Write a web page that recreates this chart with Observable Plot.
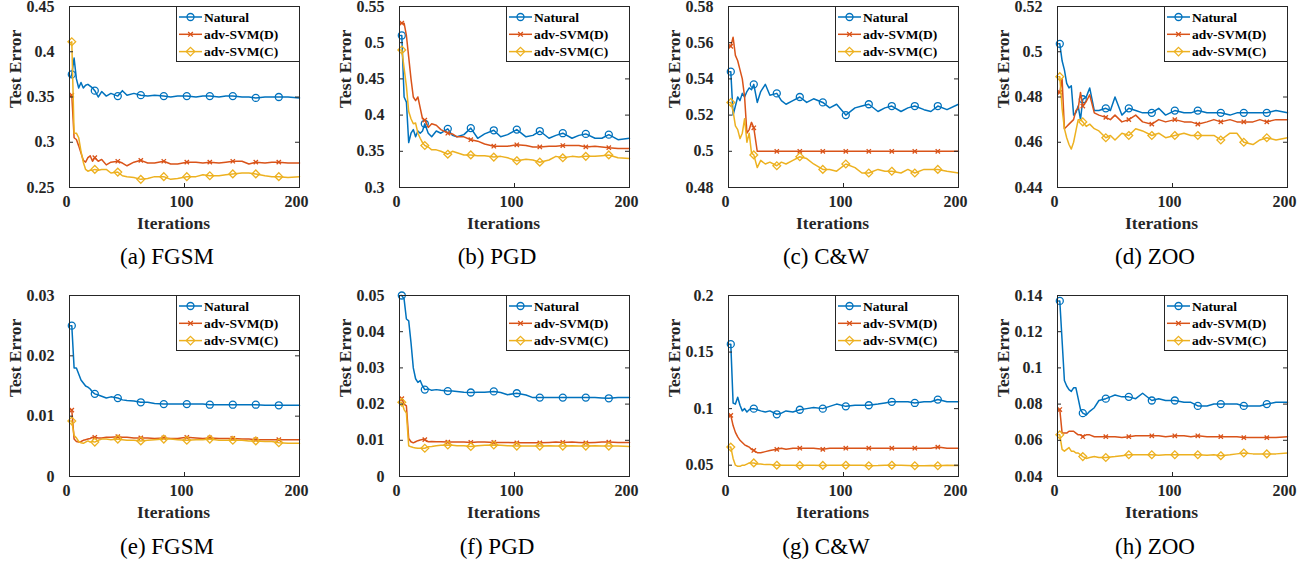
<!DOCTYPE html>
<html><head><meta charset="utf-8">
<script src="https://cdn.jsdelivr.net/npm/d3@7"></script>
<script src="https://cdn.jsdelivr.net/npm/@observablehq/plot@0.6"></script>
<style>
body{margin:0;background:#fff;}
#root{position:relative;width:1309px;height:567px;overflow:hidden;background:#fff;font-family:"Liberation Serif","Times New Roman",serif;}
.panel{position:absolute;}
.caption{position:absolute;font-size:23px;color:#000;transform:translateX(-50%);white-space:nowrap;line-height:26px;}
.legend{position:absolute;}
</style></head><body><div id="root"></div>
<script>
// ---------- data ----------
const iterations = [1,2,4,6,8,10,12,14,16,18,20,22,25,28,32,36,42,46,50,56,62,68,74,82,88,94,102,110,116,122,130,136,142,150,156,162,170,176,182,190,200];
const markerIterations = [2,22,42,62,82,102,122,142,162,182];
const seriesNames = ["Natural","adv-SVM(D)","adv-SVM(C)"];
const seriesColors = ["#0072BD","#D95319","#EDB120"];
const seriesSymbols = ["circle","times","diamond2"];
const captions = ["(a) FGSM","(b) PGD","(c) C&W","(d) ZOO","(e) FGSM","(f) PGD","(g) C&W","(h) ZOO"];
const xTicks = [0,100,200];
const xLabel = "Iterations";
const yLabel = "Test Error";

const a_nat = [0.372,0.375,0.393,0.370,0.360,0.366,0.360,0.363,0.364,0.362,0.360,0.357,0.350,0.356,0.351,0.354,0.351,0.357,0.352,0.354,0.352,0.351,0.352,0.351,0.350,0.351,0.351,0.350,0.351,0.351,0.350,0.351,0.351,0.350,0.350,0.349,0.350,0.350,0.350,0.350,0.349];
const a_advD = [0.352,0.352,0.305,0.303,0.296,0.288,0.280,0.278,0.283,0.285,0.279,0.283,0.279,0.281,0.275,0.278,0.279,0.277,0.274,0.278,0.280,0.277,0.277,0.279,0.276,0.276,0.278,0.278,0.277,0.278,0.277,0.278,0.279,0.279,0.276,0.278,0.277,0.278,0.278,0.277,0.277];
const a_advC = [0.410,0.411,0.310,0.310,0.305,0.290,0.278,0.270,0.268,0.269,0.269,0.270,0.269,0.270,0.270,0.266,0.267,0.263,0.262,0.261,0.259,0.260,0.262,0.262,0.259,0.260,0.262,0.262,0.264,0.263,0.263,0.264,0.265,0.266,0.266,0.265,0.263,0.262,0.262,0.261,0.262];

const b_nat = [0.510,0.510,0.425,0.418,0.362,0.375,0.380,0.370,0.378,0.375,0.378,0.388,0.375,0.370,0.378,0.375,0.381,0.372,0.370,0.373,0.382,0.368,0.374,0.379,0.370,0.373,0.380,0.370,0.372,0.378,0.368,0.372,0.375,0.368,0.372,0.374,0.368,0.368,0.373,0.366,0.368];
const b_advD = [0.527,0.527,0.527,0.510,0.480,0.450,0.425,0.420,0.425,0.410,0.395,0.393,0.383,0.388,0.386,0.380,0.375,0.374,0.370,0.370,0.366,0.364,0.360,0.357,0.357,0.357,0.359,0.358,0.356,0.356,0.357,0.357,0.358,0.358,0.358,0.356,0.357,0.356,0.355,0.354,0.354];
const b_advC = [0.490,0.490,0.465,0.440,0.405,0.395,0.388,0.389,0.375,0.368,0.362,0.358,0.356,0.352,0.352,0.350,0.346,0.350,0.348,0.345,0.345,0.344,0.344,0.342,0.343,0.341,0.337,0.339,0.338,0.335,0.338,0.343,0.341,0.343,0.342,0.343,0.343,0.344,0.345,0.341,0.340];

const c_nat = [0.544,0.544,0.520,0.525,0.530,0.528,0.532,0.530,0.533,0.535,0.534,0.537,0.527,0.533,0.537,0.531,0.532,0.528,0.526,0.528,0.530,0.527,0.529,0.527,0.524,0.526,0.520,0.524,0.525,0.526,0.522,0.524,0.525,0.522,0.524,0.525,0.523,0.522,0.525,0.523,0.526];
const c_advD = [0.558,0.558,0.563,0.553,0.550,0.545,0.540,0.530,0.510,0.512,0.516,0.513,0.500,0.500,0.500,0.500,0.500,0.500,0.500,0.500,0.500,0.500,0.500,0.500,0.500,0.500,0.500,0.500,0.500,0.500,0.500,0.500,0.500,0.500,0.500,0.500,0.500,0.500,0.500,0.500,0.500];
const c_advC = [0.527,0.527,0.522,0.514,0.512,0.507,0.510,0.518,0.505,0.510,0.499,0.498,0.491,0.495,0.493,0.494,0.492,0.494,0.493,0.495,0.497,0.496,0.493,0.490,0.490,0.489,0.493,0.491,0.488,0.488,0.490,0.489,0.489,0.488,0.490,0.488,0.490,0.490,0.490,0.489,0.488];

const d_nat = [0.5035,0.5035,0.496,0.492,0.486,0.484,0.485,0.472,0.473,0.476,0.470,0.479,0.480,0.484,0.474,0.474,0.475,0.474,0.480,0.472,0.475,0.474,0.473,0.473,0.475,0.472,0.474,0.473,0.473,0.474,0.473,0.473,0.473,0.472,0.473,0.473,0.473,0.473,0.473,0.474,0.473];
const d_advD = [0.482,0.482,0.488,0.466,0.467,0.468,0.469,0.470,0.474,0.475,0.482,0.476,0.478,0.481,0.473,0.472,0.471,0.470,0.472,0.469,0.470,0.472,0.469,0.468,0.470,0.469,0.470,0.469,0.469,0.468,0.469,0.470,0.469,0.470,0.469,0.469,0.469,0.470,0.469,0.470,0.470];
const d_advC = [0.489,0.489,0.475,0.466,0.462,0.459,0.457,0.460,0.465,0.470,0.470,0.469,0.467,0.468,0.466,0.465,0.462,0.463,0.461,0.464,0.463,0.466,0.465,0.463,0.464,0.462,0.463,0.464,0.463,0.463,0.463,0.463,0.461,0.464,0.464,0.460,0.459,0.461,0.462,0.461,0.462];

const e_nat = [0.025,0.025,0.018,0.018,0.017,0.016,0.0155,0.015,0.0148,0.0145,0.014,0.0137,0.0135,0.0133,0.013,0.0132,0.013,0.0127,0.0126,0.0125,0.0123,0.0123,0.0121,0.012,0.012,0.012,0.012,0.012,0.012,0.0119,0.0119,0.0119,0.0119,0.0119,0.0119,0.0119,0.0118,0.0118,0.0118,0.0118,0.0118];
const e_advD = [0.0111,0.011,0.0062,0.0058,0.0057,0.0058,0.006,0.0061,0.0062,0.0063,0.0065,0.0065,0.0064,0.0064,0.0065,0.0065,0.0066,0.0065,0.0065,0.0064,0.0064,0.0064,0.0063,0.0064,0.0063,0.0063,0.0065,0.0064,0.0063,0.0064,0.0063,0.0063,0.0063,0.0062,0.0062,0.0061,0.0061,0.0061,0.0061,0.0061,0.0061];
const e_advC = [0.0092,0.0092,0.0068,0.0064,0.0058,0.0056,0.0055,0.0057,0.0059,0.0057,0.0058,0.0057,0.006,0.0062,0.0062,0.0061,0.0062,0.0061,0.006,0.006,0.0059,0.006,0.0061,0.0062,0.0062,0.0061,0.006,0.0061,0.0061,0.0062,0.006,0.006,0.006,0.006,0.0059,0.0059,0.0058,0.0058,0.0056,0.0055,0.0055];

const f_nat = [0.05,0.05,0.049,0.0435,0.043,0.037,0.030,0.027,0.026,0.0265,0.025,0.024,0.0242,0.0238,0.024,0.0238,0.0236,0.0236,0.0235,0.0233,0.0232,0.0233,0.0233,0.0235,0.0232,0.0226,0.023,0.0225,0.0218,0.0218,0.0218,0.0218,0.0218,0.0218,0.0218,0.0218,0.0218,0.0217,0.0216,0.0218,0.0218];
const f_advD = [0.021,0.0215,0.020,0.0195,0.0105,0.0096,0.0093,0.0096,0.0099,0.0101,0.0102,0.0102,0.0096,0.0097,0.0096,0.0096,0.0095,0.0095,0.0095,0.0095,0.0094,0.0095,0.0095,0.0094,0.0094,0.0094,0.0093,0.0093,0.0093,0.0093,0.0094,0.0095,0.0094,0.0095,0.0094,0.0093,0.0094,0.0095,0.0095,0.0094,0.0094];
const f_advC = [0.0205,0.0205,0.0185,0.0175,0.0085,0.0082,0.008,0.0079,0.0078,0.0078,0.0078,0.0078,0.0082,0.0083,0.0085,0.0086,0.0087,0.0086,0.0085,0.0085,0.0083,0.0085,0.0086,0.0087,0.0086,0.0085,0.0084,0.0084,0.0084,0.0084,0.0085,0.0084,0.0084,0.0085,0.0084,0.0084,0.0085,0.0084,0.0084,0.0084,0.0083];

const g_nat = [0.157,0.157,0.105,0.104,0.110,0.103,0.098,0.100,0.097,0.099,0.100,0.100,0.099,0.098,0.097,0.098,0.095,0.096,0.098,0.097,0.099,0.100,0.101,0.100,0.102,0.104,0.102,0.103,0.103,0.103,0.104,0.105,0.106,0.106,0.106,0.105,0.106,0.106,0.108,0.106,0.106];
const g_advD = [0.094,0.094,0.085,0.079,0.075,0.072,0.070,0.068,0.067,0.066,0.064,0.063,0.061,0.061,0.062,0.063,0.064,0.065,0.064,0.065,0.065,0.065,0.065,0.064,0.065,0.065,0.065,0.065,0.065,0.065,0.065,0.065,0.065,0.065,0.065,0.065,0.065,0.065,0.066,0.065,0.065];
const g_advC = [0.066,0.066,0.056,0.050,0.049,0.049,0.050,0.050,0.051,0.052,0.052,0.052,0.051,0.051,0.0505,0.0505,0.050,0.050,0.050,0.050,0.0498,0.050,0.050,0.0498,0.050,0.050,0.050,0.050,0.050,0.0495,0.0497,0.050,0.050,0.050,0.0497,0.0495,0.0495,0.0497,0.0495,0.050,0.0497];

const h_nat = [0.137,0.137,0.115,0.093,0.090,0.088,0.087,0.089,0.089,0.083,0.077,0.075,0.074,0.076,0.078,0.082,0.083,0.084,0.085,0.084,0.084,0.083,0.086,0.082,0.083,0.082,0.082,0.081,0.081,0.079,0.079,0.080,0.080,0.080,0.080,0.079,0.079,0.079,0.080,0.081,0.081];
const h_advD = [0.077,0.077,0.064,0.064,0.064,0.065,0.065,0.065,0.064,0.063,0.063,0.062,0.063,0.063,0.062,0.062,0.062,0.062,0.062,0.0615,0.062,0.0625,0.0625,0.0625,0.0625,0.062,0.0625,0.0625,0.062,0.0625,0.062,0.062,0.062,0.062,0.062,0.0615,0.0615,0.0615,0.0615,0.0615,0.062];
const h_advC = [0.063,0.063,0.055,0.054,0.055,0.056,0.054,0.054,0.053,0.053,0.052,0.051,0.050,0.0505,0.051,0.0505,0.0505,0.0508,0.051,0.0515,0.052,0.052,0.052,0.052,0.0518,0.052,0.052,0.052,0.052,0.052,0.0518,0.052,0.0515,0.052,0.0525,0.053,0.0525,0.0525,0.0525,0.0525,0.053];

const yDomains = [[0.25,0.45],[0.3,0.55],[0.48,0.58],[0.44,0.52],[0,0.03],[0,0.05],[0.04,0.2],[0.04,0.14]];
const yTicksList = [
  [0.25,0.3,0.35,0.4,0.45],
  [0.3,0.35,0.4,0.45,0.5,0.55],
  [0.48,0.5,0.52,0.54,0.56,0.58],
  [0.44,0.46,0.48,0.5,0.52],
  [0,0.01,0.02,0.03],
  [0,0.01,0.02,0.03,0.04,0.05],
  [0.05,0.1,0.15,0.2],
  [0.04,0.06,0.08,0.1,0.12,0.14]
];
const panelSeries = [
  [a_nat,a_advD,a_advC],[b_nat,b_advD,b_advC],[c_nat,c_advD,c_advC],[d_nat,d_advD,d_advC],
  [e_nat,e_advD,e_advC],[f_nat,f_advD,f_advC],[g_nat,g_advD,g_advC],[h_nat,h_advD,h_advC]
];

// ---------- layout ----------
const root = document.getElementById("root");
const W = 330, H = 240, mL = 70, mR = 30, mT = 6, mB = 53;
const innerW = W - mL - mR, innerH = H - mT - mB;
const frameLefts = [69, 399, 728, 1057];
const rowTops = [0, 289];
const captionY = [244, 534];
const ink = "#262626";
const serif = '"Liberation Serif", "Times New Roman", serif';
const fmt = d => String(+d.toFixed(4));

function buildPanel(p) {
  const col = p % 4, row = Math.floor(p / 4);
  const rows = [];
  panelSeries[p].forEach((vals, s) => vals.forEach((v, i) => rows.push({it: iterations[i], v, s})));
  const yT = yTicksList[p];
  const marks = [];
  seriesNames.forEach((name, s) => {
    const d = rows.filter(r => r.s === s);
    marks.push(Plot.line(d, {x: "it", y: "v", stroke: seriesColors[s], strokeWidth: 1.5}));
    marks.push(Plot.dot(d.filter(r => markerIterations.includes(r.it)), {
      x: "it", y: "v", symbol: seriesSymbols[s], stroke: seriesColors[s], fill: "none",
      r: s === 1 ? 2.1 : 3.5, strokeWidth: 1.3
    }));
  });
  // inward ticks on all four sides (MATLAB box style)
  marks.push(Plot.tickX(xTicks, {x: d => d, insetTop: innerH - 4, stroke: ink}));
  marks.push(Plot.tickX(xTicks, {x: d => d, insetBottom: innerH - 4, stroke: ink}));
  marks.push(Plot.tickY(yT, {y: d => d, insetRight: innerW - 4, stroke: ink}));
  marks.push(Plot.tickY(yT, {y: d => d, insetLeft: innerW - 4, stroke: ink}));
  marks.push(Plot.axisX({ticks: xTicks, tickSize: 0, tickPadding: 8, label: null, fontSize: 16, dx: -3}));
  marks.push(Plot.axisY({ticks: yT, tickSize: 0, tickPadding: 15, tickFormat: fmt, label: null, fontSize: 16}));
  marks.push(Plot.text([xLabel], {text: d => d, frameAnchor: "bottom", lineAnchor: "middle", dy: 36, dx: -11, fontSize: 17.5, fontWeight: "bold", fill: ink}));
  marks.push(Plot.text([yLabel], {text: d => d, frameAnchor: "left", lineAnchor: "middle", rotate: -90, dx: -54, dy: 11, fontSize: 17.5, fontWeight: "bold", fill: ink}));
  marks.push(Plot.frame({stroke: ink, strokeWidth: 1}));

  const chart = Plot.plot({
    width: W, height: H, marginLeft: mL, marginRight: mR, marginTop: mT, marginBottom: mB,
    x: {domain: [0, 200]},
    y: {domain: yDomains[p]},
    style: {fontFamily: serif, fontWeight: "bold", fontSize: "16px", color: ink, background: "transparent", overflow: "visible"},
    marks
  });
  chart.style.maxWidth = "none";
  const wrap = document.createElement("div");
  wrap.className = "panel";
  wrap.style.left = (frameLefts[col] - mL) + "px";
  wrap.style.top = rowTops[row] + "px";
  wrap.style.width = W + "px";
  wrap.style.height = H + "px";
  wrap.appendChild(chart);
  root.appendChild(wrap);

  // legend (top-right inside frame)
  const lw = 123, lh = 55;
  const lg = d3.create("svg").attr("class", "legend").attr("width", lw + 1).attr("height", lh + 1)
    .style("left", (frameLefts[col] + innerW - lw) + "px").style("top", (rowTops[row] + mT) + "px");
  lg.append("rect").attr("x", 0.5).attr("y", 0.5).attr("width", lw).attr("height", lh).attr("fill", "#fff").attr("stroke", ink);
  const symMap = [d3.symbolCircle, d3.symbolTimes, d3.symbolDiamond2];
  const symSize = [38, 16, 46];
  seriesNames.forEach((name, s) => {
    const cy = 11 + s * 17.3;
    lg.append("line").attr("x1", 3).attr("x2", 26).attr("y1", cy).attr("y2", cy).attr("stroke", seriesColors[s]).attr("stroke-width", 1.5);
    lg.append("path").attr("d", d3.symbol(symMap[s], symSize[s])()).attr("transform", `translate(14.5,${cy})`)
      .attr("fill", "none").attr("stroke", seriesColors[s]).attr("stroke-width", 1.3);
    lg.append("text").attr("x", 28).attr("y", cy).attr("dy", "0.35em").text(name)
      .attr("font-family", serif).attr("font-weight", "bold").attr("font-size", 13.5).attr("fill", "#000");
  });
  root.appendChild(lg.node());

  const cap = document.createElement("div");
  cap.className = "caption";
  cap.textContent = captions[p];
  cap.style.left = (frameLefts[col] + 98) + "px";
  cap.style.top = captionY[row] + "px";
  root.appendChild(cap);
}
for (let p = 0; p < 8; p++) buildPanel(p);
</script>
</body></html>
